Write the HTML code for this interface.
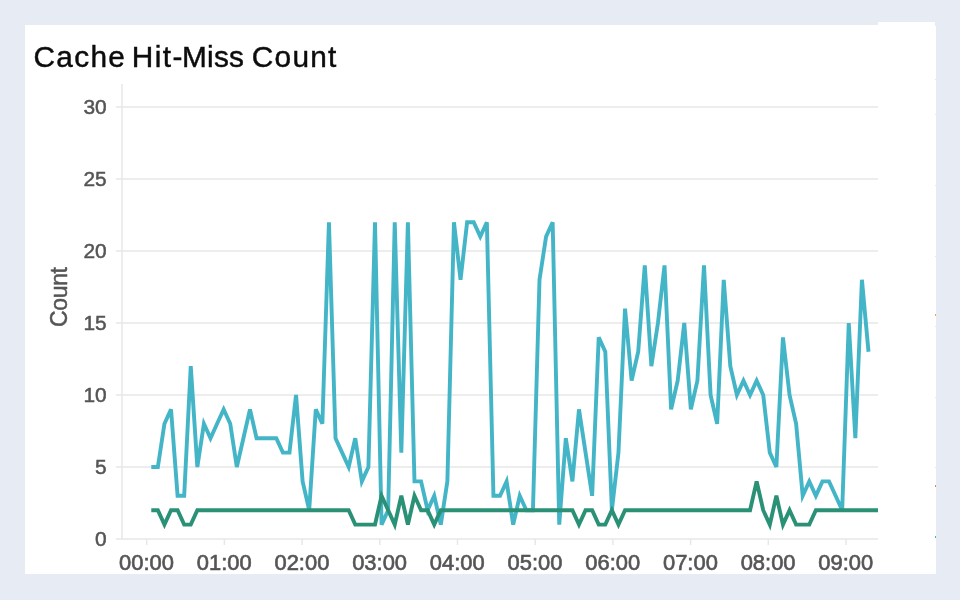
<!DOCTYPE html>
<html><head><meta charset="utf-8"><title>Cache Hit-Miss Count</title>
<style>
html,body{margin:0;padding:0;background:#e7ebf3;width:960px;height:600px;overflow:hidden}
svg{display:block}
text{font-family:"Liberation Sans",Arial,Helvetica,sans-serif;fill:#555;stroke:#555;stroke-width:.5px}
.title text{font-size:29.8px;fill:#0c0c0c;stroke:#0c0c0c;stroke-width:.45px}
.ylab text{font-size:20.9px}
.xlab text{font-size:22.5px;stroke-width:.65px}
.grid line,.tick line{stroke:#e7e7e7;stroke-width:1.45}
</style></head><body>
<svg width="960" height="600" viewBox="0 0 960 600">
<rect x="0" y="0" width="960" height="600" fill="#e7ebf3"/>
<rect x="25" y="25" width="853" height="549" fill="#fff"/>
<rect x="878" y="22" width="57" height="552" fill="#fff"/>
<rect x="935" y="26" width="1" height="548" fill="#fff"/>
<rect x="935" y="79" width="1" height="1" fill="#e3e8f0"/><rect x="935" y="114" width="1" height="1" fill="#e3e8f0"/><rect x="935" y="185" width="1" height="1" fill="#e3e8f0"/><rect x="935" y="256" width="1" height="1" fill="#e3e8f0"/><rect x="935" y="326" width="1" height="1" fill="#e3e8f0"/><rect x="935" y="397" width="1" height="1" fill="#e3e8f0"/><rect x="935" y="467" width="1" height="1" fill="#e3e8f0"/><rect x="935" y="314" width="1" height="2" fill="#e8a64a"/><rect x="935" y="485" width="1" height="2" fill="#e8864a"/><rect x="935" y="536" width="1" height="2" fill="#43b5c7"/>
<g class="title"><text y="67"><tspan x="33.5" letter-spacing="1.3">Cache </tspan><tspan x="131.7" letter-spacing="1.5">Hit-</tspan><tspan x="182" letter-spacing="0.25">Miss </tspan><tspan x="251.8" letter-spacing="1.25">Count</tspan></text></g>
<g class="grid"><line x1="116" x2="878" y1="467" y2="467"/><line x1="116" x2="878" y1="395" y2="395"/><line x1="116" x2="878" y1="323" y2="323"/><line x1="116" x2="878" y1="251" y2="251"/><line x1="116" x2="878" y1="179" y2="179"/><line x1="116" x2="878" y1="107" y2="107"/><line x1="116" x2="878" y1="539" y2="539"/><line x1="122" x2="122" y1="84" y2="539"/></g>
<g class="tick"><line x1="146.7" x2="146.7" y1="539" y2="545"/><line x1="224.4" x2="224.4" y1="539" y2="545"/><line x1="302.1" x2="302.1" y1="539" y2="545"/><line x1="379.8" x2="379.8" y1="539" y2="545"/><line x1="457.5" x2="457.5" y1="539" y2="545"/><line x1="535.2" x2="535.2" y1="539" y2="545"/><line x1="612.9" x2="612.9" y1="539" y2="545"/><line x1="690.6" x2="690.6" y1="539" y2="545"/><line x1="768.3" x2="768.3" y1="539" y2="545"/><line x1="846.0" x2="846.0" y1="539" y2="545"/></g>
<g class="ylab"><text x="106.7" y="546.3" text-anchor="end">0</text><text x="106.7" y="474.3" text-anchor="end">5</text><text x="106.7" y="402.3" text-anchor="end">10</text><text x="106.7" y="330.3" text-anchor="end">15</text><text x="106.7" y="258.3" text-anchor="end">20</text><text x="106.7" y="186.3" text-anchor="end">25</text><text x="106.7" y="114.3" text-anchor="end">30</text></g><g class="xlab"><text transform="translate(146.5,570.2) scale(.975,1.015)" text-anchor="middle">00:00</text><text transform="translate(224.2,570.2) scale(.975,1.015)" text-anchor="middle">01:00</text><text transform="translate(301.9,570.2) scale(.975,1.015)" text-anchor="middle">02:00</text><text transform="translate(379.6,570.2) scale(.975,1.015)" text-anchor="middle">03:00</text><text transform="translate(457.3,570.2) scale(.975,1.015)" text-anchor="middle">04:00</text><text transform="translate(535.0,570.2) scale(.975,1.015)" text-anchor="middle">05:00</text><text transform="translate(612.7,570.2) scale(.975,1.015)" text-anchor="middle">06:00</text><text transform="translate(690.4,570.2) scale(.975,1.015)" text-anchor="middle">07:00</text><text transform="translate(768.1,570.2) scale(.975,1.015)" text-anchor="middle">08:00</text><text transform="translate(845.8,570.2) scale(.975,1.015)" text-anchor="middle">09:00</text></g>
<text x="0" y="0" transform="translate(66.8,297) rotate(-90)" text-anchor="middle" font-size="23" textLength="60" lengthAdjust="spacing">Count</text>
<clipPath id="c"><rect x="122" y="84" width="756" height="460"/></clipPath>
<g clip-path="url(#c)" fill="none" stroke-width="3.9">
<polyline stroke="#43b5c7" points="151.28,467.00 157.86,467.00 164.44,423.80 171.02,409.40 177.60,495.80 184.18,495.80 190.76,366.20 197.34,467.00 203.92,423.80 210.50,438.20 217.08,423.80 223.66,409.40 230.24,423.80 236.82,467.00 243.40,438.20 249.98,409.40 256.56,438.20 263.14,438.20 269.72,438.20 276.30,438.20 282.88,452.60 289.46,452.60 296.04,395.00 302.62,481.40 309.20,510.20 315.78,409.40 322.36,423.80 328.94,222.20 335.52,438.20 342.10,452.60 348.68,467.00 355.26,438.20 361.84,481.40 368.42,467.00 375.00,222.20 381.58,524.60 388.16,510.20 394.74,222.20 401.32,452.60 407.90,222.20 414.48,481.40 421.06,481.40 427.64,510.20 434.22,495.80 440.80,524.60 447.38,481.40 453.96,222.20 460.54,279.80 467.12,222.20 473.70,222.20 480.28,236.60 486.86,222.20 493.44,495.80 500.02,495.80 506.60,481.40 513.18,524.60 519.76,495.80 526.34,510.20 532.92,510.20 539.50,279.80 546.08,236.60 552.66,222.20 559.24,524.60 565.82,438.20 572.40,481.40 578.98,409.40 585.56,452.60 592.14,495.80 598.72,337.40 605.30,351.80 611.88,510.20 618.46,452.60 625.04,308.60 631.62,380.60 638.20,351.80 644.78,265.40 651.36,366.20 657.94,323.00 664.52,265.40 671.10,409.40 677.68,380.60 684.26,323.00 690.84,409.40 697.42,380.60 704.00,265.40 710.58,395.00 717.16,423.80 723.74,279.80 730.32,366.20 736.90,395.00 743.48,380.60 750.06,395.00 756.64,380.60 763.22,395.00 769.80,452.60 776.38,467.00 782.96,337.40 789.54,395.00 796.12,423.80 802.70,495.80 809.28,481.40 815.86,495.80 822.44,481.40 829.02,481.40 835.60,495.80 842.18,510.20 848.76,323.00 855.34,438.20 861.92,279.80 868.50,351.80"/>
<polyline stroke="#2b9176" points="151.28,510.20 157.86,510.20 164.44,524.60 171.02,510.20 177.60,510.20 184.18,524.60 190.76,524.60 197.34,510.20 203.92,510.20 210.50,510.20 217.08,510.20 223.66,510.20 230.24,510.20 236.82,510.20 243.40,510.20 249.98,510.20 256.56,510.20 263.14,510.20 269.72,510.20 276.30,510.20 282.88,510.20 289.46,510.20 296.04,510.20 302.62,510.20 309.20,510.20 315.78,510.20 322.36,510.20 328.94,510.20 335.52,510.20 342.10,510.20 348.68,510.20 355.26,524.60 361.84,524.60 368.42,524.60 375.00,524.60 381.58,495.80 388.16,510.20 394.74,524.60 401.32,495.80 407.90,524.60 414.48,495.80 421.06,510.20 427.64,510.20 434.22,524.60 440.80,510.20 447.38,510.20 453.96,510.20 460.54,510.20 467.12,510.20 473.70,510.20 480.28,510.20 486.86,510.20 493.44,510.20 500.02,510.20 506.60,510.20 513.18,510.20 519.76,510.20 526.34,510.20 532.92,510.20 539.50,510.20 546.08,510.20 552.66,510.20 559.24,510.20 565.82,510.20 572.40,510.20 578.98,524.60 585.56,510.20 592.14,510.20 598.72,524.60 605.30,524.60 611.88,510.20 618.46,524.60 625.04,510.20 631.62,510.20 638.20,510.20 644.78,510.20 651.36,510.20 657.94,510.20 664.52,510.20 671.10,510.20 677.68,510.20 684.26,510.20 690.84,510.20 697.42,510.20 704.00,510.20 710.58,510.20 717.16,510.20 723.74,510.20 730.32,510.20 736.90,510.20 743.48,510.20 750.06,510.20 756.64,481.40 763.22,510.20 769.80,524.60 776.38,495.80 782.96,524.60 789.54,510.20 796.12,524.60 802.70,524.60 809.28,524.60 815.86,510.20 822.44,510.20 829.02,510.20 835.60,510.20 842.18,510.20 848.76,510.20 855.34,510.20 861.92,510.20 868.50,510.20 875.08,510.20 881.66,510.20 888.24,510.20"/>
</g>
</svg>
</body></html>
